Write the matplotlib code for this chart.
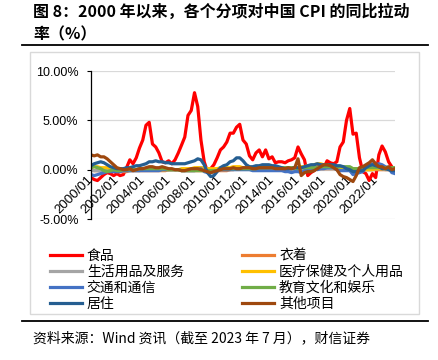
import pandas as pd
import matplotlib.pyplot as plt
import matplotlib.dates as mdates
from matplotlib.lines import Line2D
from matplotlib.patches import Rectangle

plt.rcParams['font.family'] = ['Noto Sans CJK SC', 'DejaVu Sans']

# 季度数据（1/4/7/10 月），2000/01 - 2023/07，单位 %
dates = pd.date_range('2000-01-01', '2023-07-01', freq='QS')

names = ['食品', '衣着', '生活用品及服务', '医疗保健及个人用品',
         '交通和通信', '教育文化和娱乐', '居住', '其他项目']
colors = ['#FF0000', '#ED7D31', '#A5A5A5', '#FFC000',
          '#4472C4', '#70AD47', '#255E91', '#9E480E']

food = [
    -0.8, -1.0, -1.1, -0.8,   # 2000
    -0.5, -0.3, -0.4, -0.6,   # 2001
    -0.4, -0.6, -0.5, 0.2,    # 2002
    1.0, 0.6, 1.2, 2.2,       # 2003
    3.0, 4.5, 4.8, 2.6,       # 2004
    2.3, 1.7, 0.8, 0.7,       # 2005
    0.9, 0.6, 1.0, 1.7,       # 2006
    2.5, 3.3, 5.5, 6.0,       # 2007
    7.8, 6.4, 3.0, 0.8,       # 2008
    -0.2, 0.1, 0.5, 1.2,      # 2009
    2.0, 2.3, 2.8, 3.7,       # 2010
    3.7, 4.3, 4.6, 3.0,       # 2011
    2.6, 1.4, 1.0, 1.7,       # 2012
    2.0, 1.3, 2.0, 1.1,       # 2013
    1.3, 0.7, 0.8, 0.8,       # 2014
    0.7, 0.9, 1.0, 1.2,       # 2015
    2.3, 1.6, 1.0, -0.6,      # 2016
    -0.3, -0.1, 0.3, 0.4,     # 2017
    0.2, 0.9, 0.7, 0.6,       # 2018
    0.8, 2.3, 2.8, 5.0,       # 2019
    6.2, 3.6, 3.7, 1.2,       # 2020
    -0.2, -0.4, -1.1, -0.4,   # 2021
    -0.8, 1.5, 2.4, 1.8,      # 2022
    0.8, 0.3, -0.3,           # 2023
]

clothing = [
    0.0, -0.1, -0.1, -0.1,
    -0.1, -0.1, -0.1, -0.1,
    -0.2, -0.2, -0.2, -0.2,
    -0.1, -0.1, -0.1, -0.1,
    -0.1, -0.1, -0.1, -0.1,
    -0.1, -0.1, -0.1, -0.1,
    0.0, 0.0, 0.0, 0.0,
    -0.1, -0.1, -0.1, -0.1,
    -0.1, -0.1, -0.1, -0.1,
    -0.2, -0.2, -0.2, -0.1,
    -0.1, -0.1, -0.1, 0.0,
    0.0, 0.1, 0.1, 0.1,
    0.1, 0.1, 0.1, 0.1,
    0.1, 0.1, 0.1, 0.1,
    0.1, 0.1, 0.1, 0.1,
    0.1, 0.1, 0.1, 0.1,
    0.1, 0.1, 0.1, 0.1,
    0.1, 0.1, 0.1, 0.1,
    0.1, 0.1, 0.1, 0.1,
    0.1, 0.1, 0.1, 0.1,
    0.0, 0.0, -0.1, -0.1,
    0.0, 0.0, 0.0, 0.0,
    0.0, 0.0, 0.0, 0.0,
    0.0, 0.0, 0.0,
]

household = [
    -0.1, -0.1, -0.1, -0.1,
    -0.1, -0.1, -0.1, -0.1,
    -0.1, -0.1, -0.1, -0.1,
    -0.1, -0.1, -0.1, -0.1,
    0.0, 0.0, 0.0, 0.0,
    0.0, 0.0, 0.0, 0.0,
    0.0, 0.0, 0.0, 0.0,
    0.0, 0.0, 0.0, 0.1,
    0.1, 0.2, 0.2, 0.2,
    0.1, 0.0, -0.1, -0.1,
    0.0, 0.0, 0.0, 0.0,
    0.1, 0.1, 0.1, 0.1,
    0.1, 0.1, 0.1, 0.1,
    0.1, 0.0, 0.0, 0.0,
    0.0, 0.0, 0.0, 0.0,
    0.0, 0.0, 0.0, 0.0,
    0.0, 0.0, 0.0, 0.0,
    0.0, 0.1, 0.1, 0.1,
    0.1, 0.1, 0.1, 0.1,
    0.0, 0.0, 0.0, 0.0,
    0.0, 0.0, 0.0, 0.0,
    0.0, 0.0, 0.0, 0.0,
    0.1, 0.1, 0.1, 0.0,
    0.0, 0.0, 0.0,
]

health = [
    0.3, 0.3, 0.3, 0.2,
    0.2, 0.2, 0.1, 0.1,
    0.0, 0.0, 0.0, 0.0,
    0.0, 0.0, 0.0, 0.0,
    0.0, 0.0, 0.0, 0.0,
    0.0, 0.0, 0.0, 0.0,
    0.0, 0.0, 0.0, 0.0,
    0.1, 0.1, 0.1, 0.1,
    0.2, 0.2, 0.2, 0.1,
    0.1, 0.1, 0.1, 0.1,
    0.2, 0.2, 0.2, 0.2,
    0.3, 0.3, 0.3, 0.2,
    0.2, 0.2, 0.2, 0.2,
    0.1, 0.1, 0.1, 0.1,
    0.1, 0.1, 0.1, 0.1,
    0.1, 0.2, 0.2, 0.2,
    0.2, 0.3, 0.3, 0.4,
    0.4, 0.5, 0.6, 0.6,
    0.5, 0.4, 0.3, 0.2,
    0.2, 0.2, 0.2, 0.2,
    0.2, 0.1, 0.1, 0.1,
    0.0, 0.0, 0.0, 0.0,
    0.1, 0.1, 0.1, 0.1,
    0.1, 0.1, 0.1,
]

transport = [
    -0.5, -0.6, -0.5, -0.4,
    -0.3, -0.2, -0.2, -0.2,
    -0.2, -0.2, -0.1, -0.1,
    -0.1, -0.1, -0.1, -0.1,
    -0.1, -0.1, -0.1, -0.1,
    -0.1, -0.1, 0.0, 0.0,
    0.0, 0.0, 0.0, 0.0,
    -0.1, -0.1, -0.1, -0.1,
    -0.1, 0.0, 0.1, -0.2,
    -0.3, -0.3, -0.2, -0.1,
    0.0, 0.0, 0.0, 0.0,
    0.0, 0.0, 0.0, 0.0,
    0.0, 0.0, -0.1, -0.1,
    -0.1, -0.1, -0.1, -0.1,
    -0.1, -0.1, -0.1, -0.1,
    -0.2, -0.2, -0.3, -0.2,
    -0.2, -0.3, -0.1, 0.0,
    0.1, 0.1, 0.0, 0.1,
    0.1, 0.2, 0.2, 0.2,
    0.0, -0.1, -0.1, -0.1,
    -0.1, -0.5, -0.4, -0.3,
    -0.2, 0.3, 0.5, 0.6,
    0.5, 0.6, 0.5, 0.3,
    0.2, -0.3, -0.4,
]

education = [
    0.2, 0.3, 0.2, 0.1,
    -0.1, -0.2, -0.1, 0.0,
    -0.1, -0.1, 0.0, 0.0,
    0.0, 0.0, 0.0, 0.1,
    0.1, 0.1, 0.1, 0.1,
    0.1, 0.1, 0.1, 0.1,
    0.0, 0.0, 0.0, 0.0,
    -0.1, -0.1, -0.1, -0.1,
    -0.1, -0.1, -0.1, -0.1,
    -0.1, -0.1, -0.1, -0.1,
    0.1, 0.1, 0.1, 0.1,
    0.1, 0.1, 0.1, 0.1,
    0.1, 0.1, 0.1, 0.1,
    0.2, 0.2, 0.2, 0.2,
    0.2, 0.2, 0.2, 0.2,
    0.2, 0.2, 0.2, 0.2,
    0.1, 0.2, 0.2, 0.2,
    0.2, 0.2, 0.2, 0.3,
    0.3, 0.3, 0.3, 0.3,
    0.3, 0.3, 0.3, 0.3,
    0.3, 0.1, 0.1, 0.1,
    0.0, 0.2, 0.2, 0.2,
    0.2, 0.2, 0.2, 0.2,
    0.2, 0.2, 0.2,
]

housing = [
    0.4, 0.6, 0.7, 0.8,
    0.7, 0.5, 0.3, 0.2,
    0.1, 0.1, 0.1, 0.2,
    0.2, 0.3, 0.4, 0.4,
    0.5, 0.6, 0.8, 0.8,
    0.9, 0.8, 0.8, 0.7,
    0.7, 0.6, 0.6, 0.6,
    0.6, 0.6, 0.7, 0.8,
    0.9, 1.1, 1.0, 0.5,
    -0.3, -0.7, -0.6, -0.2,
    0.2, 0.4, 0.5, 0.8,
    0.9, 1.2, 1.2, 0.9,
    0.5, 0.3, 0.3, 0.4,
    0.4, 0.5, 0.5, 0.5,
    0.4, 0.4, 0.3, 0.2,
    0.1, 0.1, 0.1, 0.2,
    0.2, 0.2, 0.3, 0.4,
    0.5, 0.5, 0.6, 0.5,
    0.5, 0.5, 0.5, 0.5,
    0.4, 0.4, 0.3, 0.1,
    0.0, -0.2, -0.2, -0.1,
    -0.1, 0.2, 0.4, 0.5,
    0.4, 0.3, 0.1, 0.1,
    0.0, -0.1, -0.1,
]

other = [
    1.5, 1.4, 1.5, 1.3,
    1.3, 1.1, 0.8, 0.5,
    0.2, 0.1, 0.0, 0.0,
    0.1, -0.1, 0.0, 0.1,
    0.1, 0.2, 0.3, 0.3,
    0.2, 0.2, 0.3, 0.2,
    0.1, 0.1, 0.0, 0.0,
    -0.1, -0.1, 0.0, 0.1,
    0.1, 0.1, 0.0, -0.1,
    -0.2, -0.3, -0.2, -0.1,
    0.0, 0.1, 0.1, 0.1,
    0.2, 0.1, 0.1, 0.2,
    0.2, 0.2, 0.1, 0.1,
    0.2, 0.2, 0.2, 0.2,
    0.2, 0.1, 0.1, 0.1,
    0.1, 0.2, 0.1, 0.2,
    1.1, -0.6, -0.3, -0.2,
    -0.2, -0.1, 0.1, 0.3,
    0.5, 0.5, 0.4, 0.2,
    0.0, -0.5, -0.7, -0.8,
    -1.0, -1.2, -0.6, 0.2,
    0.3, 0.5, 0.7, 1.0,
    0.6, 0.3, 0.3, 0.1,
    0.3, 0.0, 0.1,
]

series = [food, clothing, household, health, transport, education, housing, other]

W, H = 438, 360
fig = plt.figure(figsize=(W / 100, H / 100), dpi=100)

# 外框与上下分隔线
fig.add_artist(Rectangle((30 / W, 1 - 314 / H), 389 / W, 262 / H,
                         transform=fig.transFigure, fill=False,
                         ec='#D9D9D9', lw=1))
for yy in (45, 321):
    fig.add_artist(Line2D([22 / W, 428 / W], [1 - yy / H] * 2,
                          color='black', lw=1.3))

ax = fig.add_axes([91 / W, 1 - 219 / H, (395 - 91) / W, (219 - 71) / H])
for vals, name, c in zip(series, names, colors):
    ax.plot(dates, vals, color=c, lw=2.3, label=name)

ax.set_ylim(-5, 10)
ax.set_yticks([-5, 0, 5, 10])
ax.yaxis.set_major_formatter(lambda v, p: f'{v:.2f}%')
ax.set_xlim(dates[0], dates[-1])
ax.xaxis.set_major_locator(mdates.YearLocator(2, month=1, day=1))
ax.xaxis.set_major_formatter(mdates.DateFormatter('%Y/%m'))

ax.spines['bottom'].set_position(('data', 0))
ax.spines['bottom'].set_visible(False)
ax.spines['top'].set_visible(False)
ax.spines['right'].set_visible(False)
ax.spines['left'].set_color('black')
ax.spines['left'].set_linewidth(0.9)
ax.yaxis.grid(True, color='#D9D9D9', lw=0.9)
ax.set_axisbelow(True)

ax.tick_params(axis='y', direction='out', length=3, width=0.8, pad=6,
               labelsize=9, labelfontfamily='Liberation Sans')
ax.tick_params(axis='x', length=0, pad=6, labelrotation=45,
               labelsize=9.5, labelfontfamily='Liberation Sans')
plt.setp(ax.get_xticklabels(), ha='right', va='center',
         rotation_mode='anchor')

# 图例按行排列：调整顺序使两列逐行读出
lines = ax.get_lines()
order = [0, 2, 4, 6, 1, 3, 5, 7]
fig.legend([lines[i] for i in order], [names[i] for i in order],
           ncol=2, loc='upper left',
           bbox_to_anchor=(50 / W, 1 - 249 / H), frameon=False,
           fontsize=10, handlelength=2.3, handletextpad=0.35,
           columnspacing=4.2, labelspacing=0.15, borderpad=0,
           borderaxespad=0)

fig.text(33 / W, 1 - 12 / H, '图 8：2000 年以来，各个分项对中国 CPI 的同比拉动',
         fontsize=11.5, fontweight='bold', va='center')
fig.text(33 / W, 1 - 34 / H, '率（%）', fontsize=11.5, fontweight='bold',
         va='center')
fig.text(33 / W, 1 - 338 / H, '资料来源：Wind 资讯（截至 2023 年 7 月），财信证券',
         fontsize=10, style='italic', va='center')

fig.savefig('out.png', dpi=100)
